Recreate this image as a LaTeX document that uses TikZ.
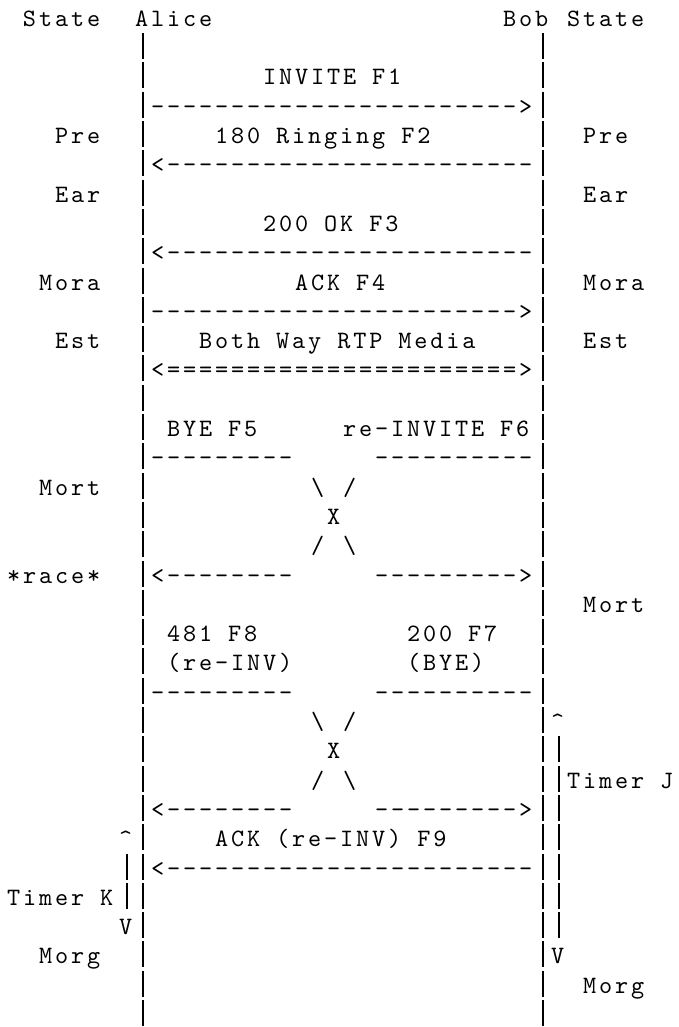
\documentclass[tikz,border=0pt]{standalone}
\usepackage{fontspec}
\setmonofont{lmmono10-regular.otf}[LetterSpace=11.5]

\begin{document}
\begin{tikzpicture}[x=16pt,y=-29.3pt,
    ascii/.style={anchor=base west,inner sep=0pt,outer sep=0pt,font=\fontsize{25}{29}\selectfont\ttfamily},
    bar/.style={line width=1.1pt}]
  \useasboundingbox (0pt,0pt) rectangle (679pt,-1027pt);
  \begin{scope}[shift={(7pt,-26.3pt)}]
    % header
    \node[ascii] (stateA) at (1,0) {State};
    \node[ascii] (alice) at (8,0) {Alice};
    \node[ascii] (bob) at (31,0) {Bob};
    \node[ascii] (stateB) at (35,0) {State};
    % lifelines and timers
    \foreach \r in {1,...,34} {
      \draw[bar] (8.5,\r) ++(0,22.5pt) -- ++(0,-26pt);
      \draw[bar] (33.5,\r) ++(0,22.5pt) -- ++(0,-26pt);
    }
    \foreach \r in {25,...,31} \draw[bar] (34.5,\r) ++(0,22.5pt) -- ++(0,-26pt);
    \foreach \r in {29,30} \draw[bar] (7.5,\r) ++(0,22.5pt) -- ++(0,-26pt);
    % setup
    \node[ascii] (f1) at (16,2) {INVITE F1};
    \node[ascii] (a1) at (9,3) {----------------------->};
    \node[ascii] (preA) at (3,4) {Pre};
    \node[ascii] (f2) at (13,4) {180 Ringing F2};
    \node[ascii] (preB) at (36,4) {Pre};
    \node[ascii] (a2) at (9,5) {<-----------------------};
    \node[ascii] (earA) at (3,6) {Ear};
    \node[ascii] (earB) at (36,6) {Ear};
    \node[ascii] (f3) at (16,7) {200 OK F3};
    \node[ascii] (a3) at (9,8) {<-----------------------};
    \node[ascii] (moraA) at (2,9) {Mora};
    \node[ascii] (f4) at (18,9) {ACK F4};
    \node[ascii] (moraB) at (36,9) {Mora};
    \node[ascii] (a4) at (9,10) {----------------------->};
    \node[ascii] (estA) at (3,11) {Est};
    \node[ascii] (media) at (12,11) {Both Way RTP Media};
    \node[ascii] (estB) at (36,11) {Est};
    \node[ascii] (a5) at (9,12) {<======================>};
    % first crossing
    \node[ascii] (f5) at (10,14) {BYE F5};
    \node[ascii] (f6) at (21,14) {re-INVITE F6};
    \node[ascii] (b5) at (9,15) {---------};
    \node[ascii] (b6) at (23,15) {----------};
    \node[ascii] (mortA) at (2,16) {Mort};
    \node[ascii] (c1) at (19,16) {\textbackslash};
    \node[ascii] (c2) at (21,16) {/};
    \node[ascii] (x1) at (20,17) {X};
    \node[ascii] (c3) at (19,18) {/};
    \node[ascii] (c4) at (21,18) {\textbackslash};
    \node[ascii] (race) at (0,19) {*race*};
    \node[ascii] (e6) at (9,19) {<--------};
    \node[ascii] (e5) at (23,19) {--------->};
    \node[ascii] (mortB) at (36,20) {Mort};
    % second crossing
    \node[ascii] (f8) at (10,21) {481 F8};
    \node[ascii] (f7) at (25,21) {200 F7};
    \node[ascii] (f8n) at (10,22) {(re-INV)};
    \node[ascii] (f7n) at (25,22) {(BYE)};
    \node[ascii] (b8) at (9,23) {---------};
    \node[ascii] (b7) at (23,23) {----------};
    \node[ascii] (c5) at (19,24) {\textbackslash};
    \node[ascii] (c6) at (21,24) {/};
    \node[ascii] (tjup) at (34,24) {\textasciicircum};
    \node[ascii] (x2) at (20,25) {X};
    \node[ascii] (c7) at (19,26) {/};
    \node[ascii] (c8) at (21,26) {\textbackslash};
    \node[ascii] (timerJ) at (35,26) {Timer J};
    \node[ascii] (e7) at (9,27) {<--------};
    \node[ascii] (e8) at (23,27) {--------->};
    % ack and timers
    \node[ascii] (tkup) at (7,28) {\textasciicircum};
    \node[ascii] (f9) at (13,28) {ACK (re-INV) F9};
    \node[ascii] (a9) at (9,29) {<-----------------------};
    \node[ascii] (timerK) at (0,30) {Timer K};
    \node[ascii] (tkdn) at (7,31) {V};
    \node[ascii] (morgA) at (2,32) {Morg};
    \node[ascii] (tjdn) at (34,32) {V};
    \node[ascii] (morgB) at (36,33) {Morg};
  \end{scope}
\end{tikzpicture}
\end{document}
